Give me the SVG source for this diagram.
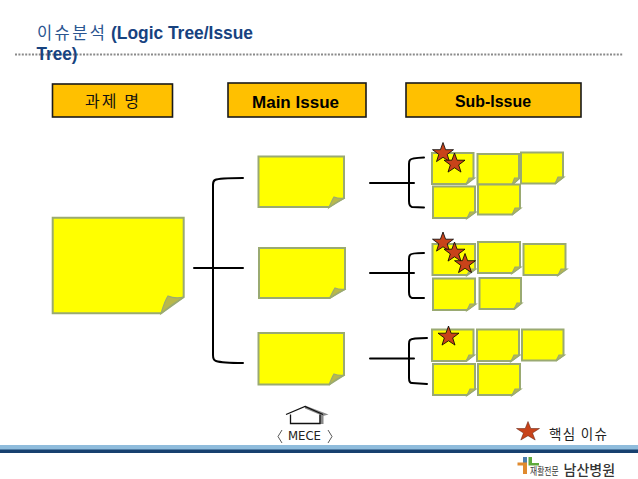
<svg xmlns="http://www.w3.org/2000/svg" width="638" height="479" viewBox="0 0 638 479">
<style>
.hb{fill:#ffc000;stroke:#1a1a1a;stroke-width:1.6}
.n{fill:#ffff00;stroke:#9aaa72;stroke-width:2}
.f{fill:#b9b84a;stroke:#9aaa72;stroke-width:1.2}
.c{fill:none;stroke:#000;stroke-width:2;stroke-linecap:round}
.s{fill:#c8431a;stroke:#000;stroke-width:.8}
.k{font-family:"Noto Sans CJK KR","DejaVu Sans",sans-serif}
.l{font-family:"Liberation Sans",Arial,sans-serif;font-weight:bold}
</style>
<defs>
<g id="star"><polygon class="s" points="0,-10.5 2.6,-3.3 10.5,-3.3 4.2,1.4 6.5,8.6 0,4.3 -6.500,8.6 -4.2,1.4 -10.5,-3.3 -2.6,-3.3"/></g>
</defs>
<rect width="638" height="479" fill="#fff"/>
<g id="title">
<line x1="15" y1="54.500" x2="622.500" y2="54.500" stroke="#8a8a8a" stroke-width="2" stroke-dasharray="2 1.400"/>
<text x="37" y="39" class="k" font-size="16.500" fill="#2a5590" textLength="68" lengthAdjust="spacing">이슈분석</text>
<text x="111" y="39" class="l" font-size="17.500" fill="#17427f" textLength="142" lengthAdjust="spacingAndGlyphs">(Logic Tree/Issue</text>
<text x="36.500" y="60" class="l" font-size="17.500" fill="#17427f" textLength="41" lengthAdjust="spacingAndGlyphs">Tree)</text>
</g>
<g id="h1"><rect class="hb" x="52.500" y="84" width="120" height="33"/><text x="85" y="107" class="k" font-size="16" fill="#111" textLength="54" lengthAdjust="spacing">과제 명</text></g>
<g id="h2"><rect class="hb" x="228" y="83" width="138" height="34"/><text x="252" y="108" class="l" font-size="16" fill="#000" textLength="87" lengthAdjust="spacingAndGlyphs">Main Issue</text></g>
<g id="h3"><rect class="hb" x="406" y="83" width="175" height="34"/><text x="455" y="107" class="l" font-size="16" fill="#000" textLength="76" lengthAdjust="spacingAndGlyphs">Sub-Issue</text></g>
<g id="connectors">
<path class="c" d="M243 178Q219 178 215 180Q213 181 213 185V355Q213 360 216 361Q222 363 243 363"/>
<line class="c" x1="194" y1="268" x2="243" y2="268"/>
<path class="c" d="M424 157.500Q411 158 410 160Q409 161 409 164V201Q409 206 412 207L424 207.500"/>
<line class="c" x1="370" y1="183" x2="414" y2="183"/>
<path class="c" d="M424 253Q411 253 410 255Q409 256 409 259V292Q409 297 412 298L424 298"/>
<line class="c" x1="370" y1="273" x2="414" y2="273"/>
<path class="c" d="M427 338Q412 338 410 340Q409 341 409 344V378Q409 383 412 383L427 384"/>
<line class="c" x1="370" y1="358.500" x2="414" y2="358.500"/>
</g>
<g id="root"><path class="n" d="M52.700 217.700H183.700V297L161 313.300H52.700Z"/><path class="f" d="M161 313.500Q165 300 168 296Q175 299 184 297Q172 304 161 313.500Z"/></g>
<g id="m1"><path class="n" d="M258.500 156.500H344V198L329 207H258.500Z"/><path class="f" d="M329 207.500Q332 200 334 197Q339 199 345 198Q337 201 329 207.500Z"/></g>
<g id="m2"><path class="n" d="M259 248H345V289L329.500 298H259Z"/><path class="f" d="M329.500 298.500Q333 291 335 288Q340 290 346 289Q338 292 329.500 298.500Z"/></g>
<g id="m3"><path class="n" d="M258.500 333H344V375L329 384.500H258.500Z"/><path class="f" d="M329 385Q332 377 334 374Q339 376 345 375Q337 378 329 385Z"/></g>
<g id="s11"><path class="n" d="M432 153H473.500V178L466 184H432Z"/><path class="f" d="M466 184.500L469 178L474.500 178Z"/></g>
<g id="s12"><path class="n" d="M477.500 154H519V178L512 184.500H477.500Z"/><path class="f" d="M512 185L514.500 178L520 178Z"/></g>
<g id="s13"><path class="n" d="M521 152.500H563V177L555 183.500H521Z"/><path class="f" d="M555 184L558 177L564 177Z"/></g>
<g id="s14"><path class="n" d="M433 186.500H475V212L467 218H433Z"/><path class="f" d="M467 218.500L470 212L476 212Z"/></g>
<g id="s15"><path class="n" d="M478 184.500H520V208L512 214.500H478Z"/><path class="f" d="M512 215L515 208L521 208Z"/></g>
<g id="s21"><path class="n" d="M432.500 244H475V269L467 275H432.500Z"/><path class="f" d="M467 275.500L470 269L476 269Z"/></g>
<g id="s22"><path class="n" d="M478 242H520V267L512 273H478Z"/><path class="f" d="M512 273.500L515 267L521 267Z"/></g>
<g id="s23"><path class="n" d="M523.500 244H565.500V269L558 275H523.500Z"/><path class="f" d="M558 275.500L561 269L567 269Z"/></g>
<g id="s24"><path class="n" d="M433 278.500H475V304L467 310H433Z"/><path class="f" d="M467 310.500L470 304L476 304Z"/></g>
<g id="s25"><path class="n" d="M479.500 278H521V303L514 309H479.500Z"/><path class="f" d="M514 309.500L517 303L522 303Z"/></g>
<g id="s31"><path class="n" d="M432 329.500H473.500V355L466 361H432Z"/><path class="f" d="M466 361.500L469 355L474.500 355Z"/></g>
<g id="s32"><path class="n" d="M477 329.500H519V355L511 361H477Z"/><path class="f" d="M511 361.500L514 355L520 355Z"/></g>
<g id="s33"><path class="n" d="M522 329.500H563.500V355L556 360.500H522Z"/><path class="f" d="M556 361L559 355L564.500 355Z"/></g>
<g id="s34"><path class="n" d="M433 364H475V389L467 395H433Z"/><path class="f" d="M467 395.500L470 389L476 389Z"/></g>
<g id="s35"><path class="n" d="M478 364H520V389L512 395H478Z"/><path class="f" d="M512 395.500L515 389L521 389Z"/></g>
<g id="stars">
<use href="#star" x="443" y="153"/><use href="#star" x="454.500" y="163.500"/>
<use href="#star" x="443" y="242.500"/><use href="#star" x="454.500" y="252.500"/><use href="#star" x="465" y="264"/>
<use href="#star" x="448.500" y="336.500"/>
</g>
<g id="mece">
<polygon points="305,405.500 328.500,414.500 323,416 305,408.500" fill="#8a8a8a"/>
<rect x="319.500" y="415" width="4" height="9" fill="#8a8a8a"/>
<path d="M286 414.500L305 406.500L323 414.500M290.500 414.500V423.500H320V414.500" fill="none" stroke="#111" stroke-width="1.300"/>
<text x="288" y="440" font-family="'DejaVu Sans',sans-serif" font-size="11.500" fill="#222" textLength="33" lengthAdjust="spacingAndGlyphs">MECE</text>
<path d="M282 430L278 436.500L282 443M328 430L332 436.500L328 443" fill="none" stroke="#444" stroke-width=".9"/>
</g>
<g id="legend"><polygon points="528,421.500 530.800,428.500 539.500,428.500 532.500,433 535.200,440 528,435.700 520.800,440 523.500,433 516.500,428.500 525.200,428.500" fill="#c8431a" stroke="#5a1a08" stroke-width=".5"/>
<text x="549" y="439" class="k" font-size="13.500" fill="#222" textLength="58" lengthAdjust="spacing">핵심 이슈</text></g>
<g id="footer"><rect x="0" y="445" width="638" height="5" fill="#8fbcdc"/><rect x="0" y="449.500" width="638" height="3.500" fill="#17406f"/></g>
<g id="logo">
<rect x="523" y="457" width="4" height="7" fill="#4d7fae"/><rect x="517.500" y="462.500" width="9.500" height="3" fill="#e08a2e"/><rect x="523" y="465" width="4" height="9" fill="#e08a2e"/>
<path d="M528.500 457h3.500v6H539v2.500H528.500Z" fill="#5fa93c"/>
<text transform="translate(530 475) scale(.74 1)" class="k" font-size="10.500" fill="#333">재활전문</text>
<text x="563.500" y="474.500" class="k" font-size="14" font-weight="500" fill="#333">남산병원</text>
</g>
</svg>
